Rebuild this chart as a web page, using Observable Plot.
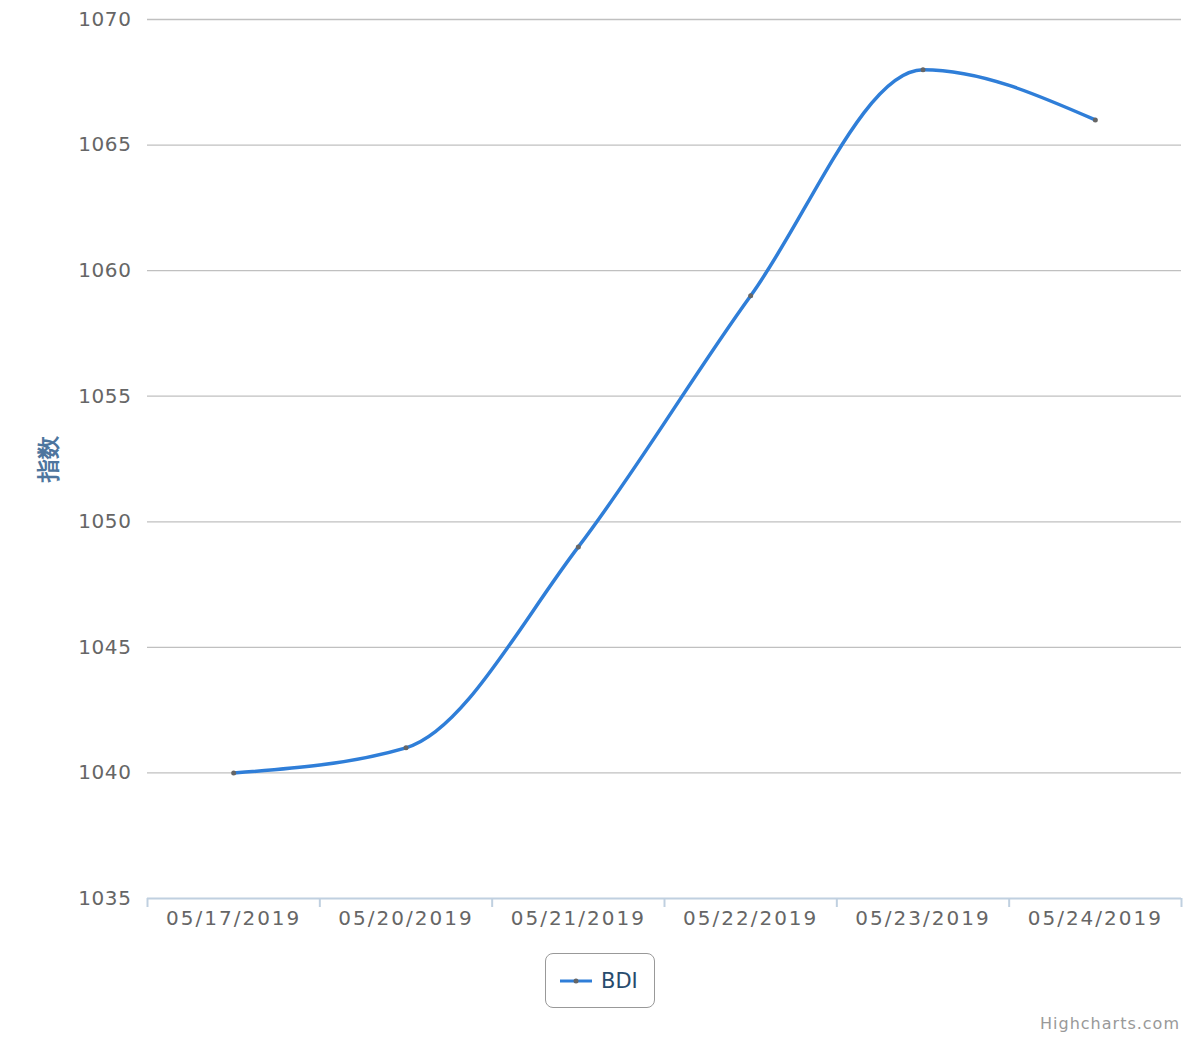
<!DOCTYPE html>
<html>
<head>
<meta charset="utf-8">
<script src="https://cdn.jsdelivr.net/npm/d3@7"></script>
<script src="https://cdn.jsdelivr.net/npm/@observablehq/plot@0.6"></script>
<style>
  html, body { margin: 0; padding: 0; background: #fff; }
  #wrap { position: relative; width: 1200px; height: 1040px; font-family: "DejaVu Sans", sans-serif; }
  #legend { position: absolute; left: 545px; top: 953px; width: 110px; height: 55px; border: 1.5px solid #999; border-radius: 8px; box-sizing: border-box; display: flex; align-items: center; }
  #legend svg { margin-left: 14px; }
  #legend span { margin-left: 9px; font-size: 21px; color: #274b6d; }
  #credit { position: absolute; right: 20px; top: 1014px; font-size: 16px; letter-spacing: 1px; color: #999; }
  #chart g[aria-label="x-axis tick label"] text { letter-spacing: 2px; }
  #chart g[aria-label="y-axis tick label"] text { letter-spacing: 0.6px; }
</style>
</head>
<body>
<div id="wrap">
  <div id="chart"></div>
  <div id="legend"><svg width="32" height="10"><line x1="0" y1="5" x2="32" y2="5" stroke="#2f7ed8" stroke-width="3"/><circle cx="16" cy="5" r="2.5" fill="#666"/></svg><span id="legendLabel"></span></div>
  <div id="credit">Highcharts.com</div>
</div>
<script>
const categories = ["05/17/2019", "05/20/2019", "05/21/2019", "05/22/2019", "05/23/2019", "05/24/2019"];
const values = [1040, 1041, 1049, 1059, 1068, 1066];
const yTicks = [1035, 1040, 1045, 1050, 1055, 1060, 1065, 1070];
const seriesName = "BDI";
const yTitle = "指数";

const data = categories.map((c, i) => ({i, date: c, value: values[i]}));
const idx = categories.map((c, i) => i);
const bounds = categories.map((c, i) => i - 0.5).concat([categories.length - 0.5]);

document.getElementById("legendLabel").textContent = seriesName;

const chart = Plot.plot({
  width: 1200,
  height: 940,
  marginTop: 19,
  marginBottom: 42,
  marginLeft: 147,
  marginRight: 19,
  style: {fontFamily: "DejaVu Sans, sans-serif", fontSize: "20px", color: "#666", background: "#fff"},
  x: {type: "linear", domain: [-0.5, categories.length - 0.5]},
  y: {domain: [1035, 1070]},
  marks: [
    Plot.ruleY(yTicks.filter(d => d > 1035), {stroke: "#c0c0c0", strokeWidth: 1.3}),
    Plot.ruleY([1035], {stroke: "#c0d0e0", strokeWidth: 2}),
    Plot.axisY({ticks: yTicks, tickSize: 0, tickPadding: 16, tickFormat: d => String(d), fill: "#666", label: null}),
    Plot.axisY({ticks: [], label: yTitle, labelAnchor: "center", labelArrow: "none", labelOffset: 108, fill: "#4d759e", fontSize: 23, fontWeight: "bold"}),
    Plot.axisX({ticks: bounds, tickSize: 9, stroke: "#c0d0e0", strokeWidth: 2, tickFormat: () => "", label: null}),
    Plot.axisX({ticks: idx, tickSize: 0, tickPadding: 12, tickFormat: i => categories[i], fill: "#666", label: null}),
    Plot.line(data, {x: "i", y: "value", stroke: "#2f7ed8", strokeWidth: 3.5, curve: "monotone-x"}),
    Plot.dot(data, {x: "i", y: "value", r: 2.5, fill: "#666", stroke: null})
  ]
});
document.getElementById("chart").appendChild(chart);
</script>
</body>
</html>
